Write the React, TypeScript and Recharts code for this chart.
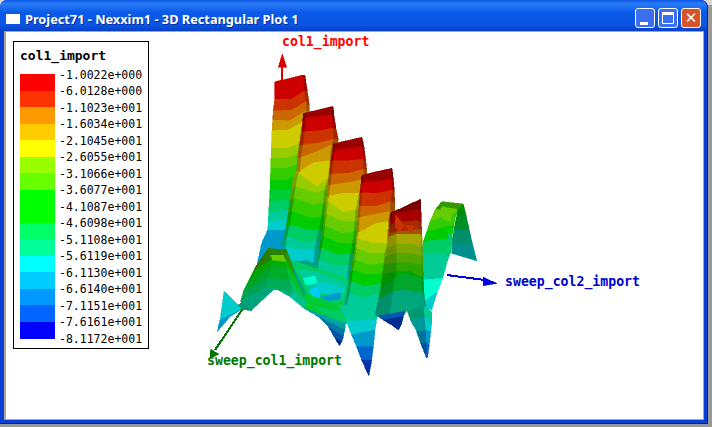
import React from "react";
import { ScatterChart, Scatter, XAxis, YAxis } from "recharts";

type P = [number, number];
const surfacePalette = ["#cc0000","#cc3300","#cc6600","#cc9900","#cccc00","#99cc00","#66cc00","#33cc00","#00cc33","#00cc66","#00cc99","#00cccc","#0099cc","#0066cc","#0033aa","#990000","#00ffcc","#00ffff","#00ccff","#00cc00","#339900"];

const legendTitle = "col1_import";
const legendLabels = ["-1.0022e+000","-6.0128e+000","-1.1023e+001","-1.6034e+001","-2.1045e+001","-2.6055e+001","-3.1066e+001","-3.6077e+001","-4.1087e+001","-4.6098e+001","-5.1108e+001","-5.6119e+001","-6.1130e+001","-6.6140e+001","-7.1151e+001","-7.6161e+001","-8.1172e+001"];
const legendColors = ["#ff0000","#ff3300","#ff9900","#ffcc00","#ffff00","#99ff00","#66ff00","#00ff00","#00ff00","#00ff66","#00ff99","#00ffff","#00ccff","#0099ff","#0066ff","#0000ff"];

// strips: rows of surface points, a contour level between each pair of rows, a shade per column
const ridge1Rows: P[][] = [
  [[225,155],[270,145],[310,135],[315,137]],[[224,208],[275,207],[314,182],[322,185]],[[220,243],[275,240],[318,215],[328,225]],
  [[218,270],[270,272],[318,242],[328,245]],[[216,302],[265,300],[318,270],[325,275]],[[214,355],[265,355],[320,330],[322,330]],
  [[213,385],[260,385],[320,360],[322,360]],[[212,415],[260,415],[320,390],[322,390]],[[211,450],[260,450],[320,420],[322,420]],
  [[210,480],[260,480],[320,450],[322,450]],[[208,515],[260,510],[320,480],[322,480]],[[206,545],[260,540],[320,510],[322,510]],
  [[205,575],[255,570],[320,540],[322,540]],[[203,600],[255,600],[320,570],[322,570]],[[185,640],[250,630],[320,600],[322,600]],
  [[170,710],[260,700],[330,700],[332,700]],
];
const ridge1Levels = [0,1,2,3,4,5,6,7,19,8,9,10,11,12,12];
const ridge2Rows: P[][] = [
  [[310,250],[318,248],[355,240],[395,230],[400,232]],[[308,280],[318,264],[355,260],[395,255],[402,258]],
  [[304,305],[315,305],[360,302],[400,294],[408,296]],[[298,345],[310,345],[360,338],[402,328],[415,328]],
  [[293,385],[304,382],[350,365],[395,345],[410,348]],[[290,425],[300,425],[340,398],[390,392],[400,392]],
  [[280,440],[295,430],[350,470],[385,445],[430,445]],[[275,475],[288,470],[350,490],[375,480],[425,480]],
  [[270,510],[283,505],[340,525],[370,520],[420,520]],[[265,550],[277,545],[335,565],[365,560],[415,560]],
  [[258,590],[270,585],[330,600],[358,600],[410,600]],[[250,625],[262,620],[320,640],[350,630],[400,630]],
  [[245,650],[258,650],[300,660],[345,660],[395,660]],[[245,690],[270,695],[320,690],[340,700],[395,720]],
];
const ridge2Levels = [15,0,1,2,3,4,5,6,7,19,9,10,11];
const ridge3Rows: P[][] = [
  [[400,342],[406,340],[445,331],[485,322],[487,326]],[[397,368],[404,362],[445,355],[486,350],[492,352]],
  [[392,395],[400,393],[445,392],[490,388],[497,390]],[[388,435],[397,432],[445,430],[492,418],[500,420]],
  [[384,465],[392,465],[445,458],[490,448],[500,445]],[[381,500],[388,498],[425,490],[478,490],[490,480]],
  [[378,525],[385,515],[430,547],[468,540],[530,530]],[[374,560],[380,553],[430,575],[465,575],[515,570]],
  [[370,590],[376,588],[425,610],[462,605],[510,605]],[[364,625],[372,620],[420,640],[458,640],[505,640]],
  [[358,660],[366,655],[415,675],[452,670],[500,670]],[[350,695],[358,690],[410,710],[446,705],[495,705]],
  [[345,725],[355,720],[400,745],[442,740],[490,740]],[[340,770],[350,770],[400,790],[440,800],[490,810]],
];
const ridge3Levels = [15,0,1,2,3,4,5,6,7,19,9,10,11];
const ridge4Rows: P[][] = [
  [[485,437],[490,435],[530,425],[575,415],[577,420]],[[483,462],[488,458],[530,455],[576,448],[580,452]],
  [[480,490],[486,488],[530,490],[578,480],[583,482]],[[477,530],[483,528],[530,528],[572,515],[584,518]],
  [[475,565],[480,562],[530,552],[570,545],[585,550]],[[472,610],[477,607],[530,580],[565,575],[590,575]],
  [[468,630],[473,625],[520,640],[562,640],[605,610]],[[465,660],[470,655],[510,670],[555,670],[600,670]],
  [[458,695],[466,690],[505,705],[552,700],[600,700]],[[452,725],[460,720],[500,735],[548,730],[600,730]],
  [[446,760],[455,755],[495,770],[545,760],[595,760]],[[440,795],[450,790],[490,805],[542,790],[590,790]],
  [[430,830],[440,830],[490,840],[530,850],[580,850]],
];
const ridge4Levels = [15,0,1,2,3,4,5,6,7,19,9,10];
const ridge5Rows: P[][] = [
  [[572,548],[580,545],[615,530],[660,508],[662,512]],[[570,565],[582,552],[620,545],[658,538],[663,545]],
  [[568,590],[585,578],[620,575],[655,572],[664,578]],[[566,610],[590,605],[625,602],[660,598],[665,600]],
  [[564,622],[590,612],[630,612],[662,612],[666,620]],[[561,655],[590,642],[630,642],[662,648],[666,650]],
  [[558,680],[590,670],[630,670],[664,678],[668,680]],[[552,705],[590,698],[630,698],[666,705],[668,705]],
  [[548,735],[590,725],[630,725],[666,742],[670,745]],[[542,775],[585,745],[610,730],[664,745],[670,745]],
  [[535,810],[580,785],[610,780],[668,790],[672,790]],[[525,858],[570,850],[620,841],[672,828],[676,830]],
];
const ridge5Levels = [15,0,1,2,4,5,6,7,19,8,10];
const backRightRows: P[][] = [
  [[770,535],[790,522]],[[770,560],[798,555]],[[762,600],[808,600]],[[755,640],[818,645]],[[755,670],[830,692]],
];
const backRightLevels = [19,8,10,11];
const frontRightRows: P[][] = [
  [[725,515],[790,522]],[[705,540],[772,538]],[[690,575],[770,545]],[[680,605],[762,585]],[[670,635],[755,625]],[[665,670],[750,670]],
  [[668,710],[740,700]],[[670,750],[728,745]],[[672,815],[712,785]],[[675,830],[695,840]],
];
const frontRightLevels = [20,6,7,19,9,10,10,16,11];
const humpRows: P[][] = [
  [[170,705],[205,655],[260,660],[275,700]],[[160,725],[210,690],[258,695],[285,740]],[[145,755],[212,710],[260,710],[300,770]],
  [[130,785],[205,745],[270,750],[310,800]],[[122,815],[195,775],[280,785],[320,815]],[[155,840],[225,775],[270,800],[312,835]],
];
const humpLevels = [20,19,8,9,10];
const centerRows: P[][] = [[[415,825],[540,830]],[[440,875],[530,868]],[[455,915],[525,900]],[[470,950],[520,950]],[[485,990],[515,990]],[[505,1035],[507,1035]]];
const centerLevels = [10,11,12,13,14];
const vee1Rows: P[][] = [[[312,835],[437,880]],[[355,860],[434,900]],[[385,890],[430,920]],[[405,925],[425,935]],[[417,945],[420,945]]];
const vee1Levels = [11,12,13,14];
const vee2Rows: P[][] = [[[528,855],[620,840]],[[550,870],[610,860]],[[575,885],[605,880]],[[595,900],[595,900]]];
const vee2Levels = [13,14,14];
const vee3Rows: P[][] = [
  [[620,838],[672,825],[695,845]],[[632,870],[674,860],[695,880]],[[650,905],[678,900],[692,905]],[[662,940],[680,940],[688,945]],[[680,985],[680,985],[682,985]],
];
const vee3Levels = [10,11,12,13];
const wingRows: P[][] = [[[72,785],[75,786]],[[66,830],[115,825]],[[60,870],[125,838]],[[52,905],[90,860]]];
const wingLevels = [11,11,12];
const wingTail: P[] = [[115,825],[170,780],[155,842],[125,838]];

const backing: P[] = [[230,680],[350,600],[660,650],[668,830],[440,862],[312,805],[260,700]];
const floorPatches: [number, P[]][] = [
  [9,[[270,690],[350,715],[445,745],[445,810],[415,828],[320,790]]],
  [10,[[295,720],[350,725],[440,760],[430,800],[330,785]]],
  [11,[[340,755],[390,760],[435,780],[410,800],[355,785]]],
  [16,[[310,745],[345,738],[350,758],[318,765]]],
  [18,[[328,780],[352,770],[362,802],[340,802]]],
  [12,[[360,802],[420,788],[420,808],[385,812]]],
  [8,[[315,790],[410,825],[445,815],[440,880],[312,835]]],
  [9,[[345,830],[420,845],[440,880],[400,865]]],
  [17,[[430,845],[452,838],[446,870]]],
];
const accentPatches: [number, P[]][] = [
  [1,[[588,556],[612,585],[600,606],[585,590]]],
  [1,[[615,585],[640,588],[635,612]]],
  [6,[[725,530],[770,538],[748,575],[720,560]]],
  [7,[[755,552],[765,550],[757,580],[752,578]]],
  [9,[[745,610],[755,610],[752,670],[740,680]]],
  [6,[[212,675],[250,675],[258,695],[218,690]]],
];

const redAxis: P[] = [[245,150],[245,110]];
const redHead: P[] = [[247,72],[235,112],[260,112]];
const greenAxis: P[] = [[127,838],[45,960]];
const greenHead: P[] = [[30,985],[32,958],[56,972]];
const blueAxis: P[] = [[740,735],[855,750]];
const blueHead: P[] = [[890,760],[850,742],[850,767]];

const axisLabels = [
  { text: "col1_import", x: 282, y: 47, color: "#ff0000" },
  { text: "sweep_col1_import", x: 207, y: 366, color: "#007700" },
  { text: "sweep_col2_import", x: 505, y: 287, color: "#0000cc" },
];

function shade(hex: string, f: number) {
  const n = parseInt(hex.slice(1), 16);
  const c = (v: number) => Math.round(v * f);
  return `rgb(${c(n >> 16)},${c((n >> 8) & 255)},${c(n & 255)})`;
}
const noDot = () => <g />;

function poly(key: string, pts: P[], fill: string) {
  const data = pts.map(([x, y]) => ({ x, y }));
  return (
    <Scatter key={key} data={data} isAnimationActive={false} shape={noDot}
      line={(p: any) => (
        <polygon points={p.points.map((q: any) => `${q.x},${q.y}`).join(" ")} fill={fill} stroke={fill} strokeWidth={0.6} shapeRendering="crispEdges" />
      )} />
  );
}
function strip(key: string, rows: P[][], levels: number[], shades: number[]) {
  const out: React.ReactNode[] = [];
  levels.forEach((lv, i) => {
    const a = rows[i], b = rows[i + 1];
    for (let c = 0; c < a.length - 1; c++) {
      out.push(poly(`${key}-${i}-${c}`, [a[c], a[c + 1], b[c + 1], b[c]], shade(surfacePalette[lv], shades[c] ?? 1)));
    }
  });
  return out;
}
function line(key: string, pts: P[], color: string) {
  return (
    <Scatter key={key} data={pts.map(([x, y]) => ({ x, y }))} isAnimationActive={false} shape={noDot}
      line={(p: any) => <polyline points={p.points.map((q: any) => `${q.x},${q.y}`).join(" ")} fill="none" stroke={color} strokeWidth={2} shapeRendering="crispEdges" />} />
  );
}

const mono = "'DejaVu Sans Mono', 'Liberation Mono', monospace";

function Frame() {
  const btn = (left: number, bg: string, child: React.ReactNode) => (
    <div style={{ position: "absolute", left, top: 8, width: 20, height: 20, borderRadius: 3, border: "1px solid #fff", background: bg, boxSizing: "border-box", overflow: "hidden" }}>{child}</div>
  );
  return (
    <>
      <div style={{ position: "absolute", left: 0, top: 0, width: 712, height: 427, background: "#999999" }} />
      <div style={{ position: "absolute", left: 0, top: 0, width: 712, height: 5, background: "#d8d8d8" }} />
      <div style={{ position: "absolute", left: 0, top: 0, width: 708, height: 424, borderRadius: "7px 7px 0 0", background: "#0a3fd6", borderRight: "1px solid #001ea0", borderBottom: "1px solid #001ea0", boxSizing: "border-box" }} />
      <div style={{ position: "absolute", left: 0, top: 0, width: 707, height: 31, borderRadius: "7px 7px 0 0", background: "linear-gradient(180deg,#0a55e4 0%,#2a7cf6 12%,#0b5ae8 40%,#0a55e2 80%,#0840c8 100%)" }} />
      <div style={{ position: "absolute", left: 4, top: 31, width: 700, height: 389, background: "#aca899" }} />
      <div style={{ position: "absolute", left: 6, top: 14, width: 14, height: 10, background: "#fff" }} />
      <div style={{ position: "absolute", left: 25, top: 11, fontFamily: "'Noto Sans',sans-serif", fontWeight: 700, fontSize: 12.75, lineHeight: "16px", color: "#fff", whiteSpace: "nowrap", textShadow: "1px 1px 0 #0a2fa0" }}>Project71 - Nexxim1 - 3D Rectangular Plot 1</div>
      {btn(635, "#3c6ef0", <div style={{ position: "absolute", left: 4, top: 13, width: 8, height: 3, background: "#fff" }} />)}
      {btn(658, "#3c6ef0", <div style={{ position: "absolute", left: 3, top: 3, width: 12, height: 12, border: "1px solid #fff", borderTopWidth: 3, boxSizing: "border-box" }} />)}
      {btn(681, "#d9532a", <div style={{ color: "#fff", fontFamily: "'DejaVu Sans',sans-serif", fontWeight: 700, fontSize: 15, lineHeight: "18px", textAlign: "center" }}>✕</div>)}
    </>
  );
}

function LegendBox() {
  return (
    <div style={{ position: "absolute", left: 13, top: 41, width: 136, height: 308, border: "1px solid #000", boxSizing: "border-box", background: "#fff", fontFamily: mono, color: "#000" }}>
      <div style={{ position: "absolute", left: 6, top: 6, fontSize: 13, fontWeight: 700, lineHeight: "16px" }}>{legendTitle}</div>
      {legendColors.map((c, i) => (
        <div key={i} style={{ position: "absolute", left: 6, top: 32 + i * 16.5, width: 35, height: 17, background: c }} />
      ))}
      {legendLabels.map((t, i) => (
        <div key={t} style={{ position: "absolute", left: 45, top: 25.5 + i * 16.5, fontSize: 11.5, lineHeight: "14px", whiteSpace: "nowrap" }}>{t}</div>
      ))}
    </div>
  );
}

export default function App() {
  return (
    <div style={{ position: "fixed", left: 0, top: 0, width: 712, height: 427, overflow: "hidden", background: "#fff" }}>
      <Frame />
      <div style={{ position: "absolute", left: 6, top: 32, width: 697, height: 387, background: "#fff" }} />
      <div style={{ position: "absolute", left: 0, top: 0 }}>
        <ScatterChart width={712} height={427} margin={{ top: 0, right: 0, bottom: 0, left: 0 }}>
          <XAxis type="number" dataKey="x" domain={[-600, 1536]} hide allowDataOverflow />
          <YAxis type="number" dataKey="y" domain={[-90, 1191]} reversed hide allowDataOverflow />
          {strip("r1", ridge1Rows, ridge1Levels, [1, 1, 0.8])}
          {line("ra", redAxis, "#dd0000")}
          {poly("rh", redHead, "#dd0000")}
          {poly("bk", backing, shade(surfacePalette[10], 0.8))}
          {strip("br", backRightRows, backRightLevels, [0.7])}
          {strip("fr", frontRightRows, frontRightLevels, [1])}
          {strip("r2", ridge2Rows, ridge2Levels, [0.78, 1, 1, 0.78])}
          {strip("r3", ridge3Rows, ridge3Levels, [0.78, 1, 1, 0.78])}
          {floorPatches.map(([c, p], i) => poly(`f${i}`, p, surfacePalette[c]))}
          {strip("r4", ridge4Rows, ridge4Levels, [0.78, 1, 1, 0.78])}
          {strip("v1", vee1Rows, vee1Levels, [0.8])}
          {strip("v2", vee2Rows, vee2Levels, [0.85])}
          {strip("c", centerRows, centerLevels, [1])}
          {strip("v3", vee3Rows, vee3Levels, [0.75, 1])}
          {strip("r5", ridge5Rows, ridge5Levels, [0.7, 0.82, 0.82, 0.75])}
          {strip("w", wingRows, wingLevels, [1])}
          {poly("wt", wingTail, shade(surfacePalette[10], 0.75))}
          {strip("h", humpRows, humpLevels, [0.8, 0.85, 0.95])}
          {accentPatches.map(([c, p], i) => poly(`a${i}`, p, surfacePalette[c]))}
          {line("ga", greenAxis, "#007700")}
          {poly("gh", greenHead, "#007700")}
          {line("ba", blueAxis, "#0000dd")}
          {poly("bh", blueHead, "#0000dd")}
        </ScatterChart>
      </div>
      <LegendBox />
      {axisLabels.map((l) => (
        <div key={l.text} style={{ position: "absolute", left: l.x, top: l.y - 13, fontFamily: mono, fontWeight: 700, fontSize: 13.2, lineHeight: "16px", color: l.color, whiteSpace: "nowrap" }}>{l.text}</div>
      ))}
    </div>
  );
}
